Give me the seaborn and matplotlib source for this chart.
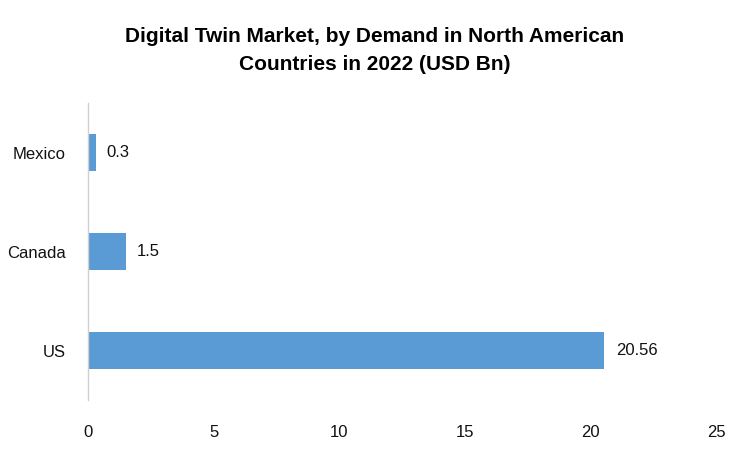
import matplotlib
matplotlib.use("Agg")
import matplotlib.pyplot as plt
import seaborn as sns
import pandas as pd

# 数据
countries = ["Mexico", "Canada", "US"]
values = [0.3, 1.5, 20.56]
value_labels = ["0.3", "1.5", "20.56"]

sns.set_style("white")
plt.rcParams['font.family'] = ['Liberation Sans', 'DejaVu Sans']

df = pd.DataFrame({"country": countries, "value": values})

fig = plt.figure(figsize=(7.5, 4.5), dpi=100)
ax = fig.add_axes([0.1173, 0.111, 0.8374, 0.66])
sns.barplot(data=df, x="value", y="country", color="#5B9BD5", saturation=1,
            width=0.37, linewidth=0, ax=ax)

for i, lab in enumerate(value_labels):
    ax.text(values[i] + 0.45, i, lab, va="center", ha="left", fontsize=12, color="#111111")

ax.set_xlim(0, 25)
ax.set_ylim(2.5, -0.5)
ax.set_xticks([0, 5, 10, 15, 20, 25])
ax.set_xlabel("")
ax.set_ylabel("")
ax.tick_params(axis="both", length=0, labelsize=12, colors="#111111")
ax.tick_params(axis="x", pad=18)
ax.tick_params(axis="y", pad=16)
for s in ["top", "right", "bottom"]:
    ax.spines[s].set_visible(False)
ax.spines["left"].set_color("#d0d0d0")
ax.spines["left"].set_linewidth(1)

fig.suptitle("Digital Twin Market, by Demand in North American\nCountries in 2022 (USD Bn)",
             x=0.5, y=0.94, fontsize=15, fontweight="bold", linespacing=1.6, color="black")

plt.savefig("out.png", dpi=100)
